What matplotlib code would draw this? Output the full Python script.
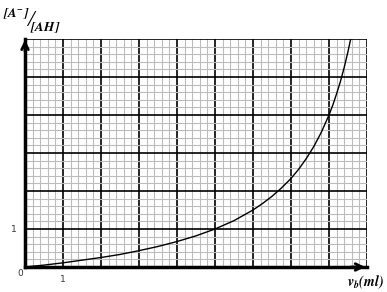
import numpy as np
import matplotlib.pyplot as plt

plt.rcParams['mathtext.fontset'] = 'stix'

# ___________________ DATA ___________________
vb = [0, 0.5, 1, 1.5, 2, 2.5, 3, 3.5, 4, 4.5, 5, 5.5, 6, 6.25, 6.5, 6.75,
      7, 7.2, 7.4, 7.6, 7.8, 8, 8.1, 8.2, 8.3, 8.4, 8.5, 8.6]
ratio = [0, 0.05, 0.11, 0.18, 0.25, 0.33, 0.43, 0.54, 0.67, 0.82, 1.0,
         1.22, 1.5, 1.67, 1.86, 2.08, 2.33, 2.57, 2.85, 3.17, 3.55, 4.0,
         4.26, 4.56, 4.88, 5.25, 5.67, 6.14]

x_max, y_max = 9, 6
x_labels = ['', '1', '', '', '', '', '', '', '', '']
y_labels = ['', '1', '', '', '', '', '']

# ___________________ PLOT ___________________
fig = plt.figure(figsize=(3.87, 2.92), dpi=100)
ax = fig.add_axes([25 / 387, 25 / 292, 342 / 387, 228 / 292])

ax.set_xlim(0, x_max)
ax.set_ylim(0, y_max)

ax.set_xticks(range(x_max + 1))
ax.set_xticklabels(x_labels)
ax.set_yticks(range(y_max + 1))
ax.set_yticklabels(y_labels)
ax.set_xticks(np.arange(0, x_max + 0.01, 0.2), minor=True)
ax.set_yticks(np.arange(0, y_max + 0.01, 0.2), minor=True)
ax.tick_params(which='both', length=0, labelsize=6.5, colors='#333333')
ax.tick_params(axis='x', pad=6)
ax.tick_params(axis='y', pad=6)

ax.grid(which='minor', color='#bcbcbc', linewidth=0.8)
ax.grid(which='major', color='black', linewidth=1.2)
ax.set_axisbelow(True)

for s in ['top', 'right']:
    ax.spines[s].set_visible(False)
for s in ['left', 'bottom']:
    ax.spines[s].set_linewidth(2.5)

ax.plot(vb, ratio, color='black', linewidth=1.0)

# axis arrows
ax.annotate('', xy=(0, y_max + 0.05), xytext=(0, y_max - 0.4),
            arrowprops=dict(arrowstyle='->', lw=2, color='black',
                            mutation_scale=12), annotation_clip=False)
ax.annotate('', xy=(x_max + 0.02, 0), xytext=(x_max - 0.5, 0),
            arrowprops=dict(arrowstyle='->', lw=2, color='black',
                            mutation_scale=12), annotation_clip=False)

# labels
fig.text(20 / 387, 1 - 274 / 292, '0', fontsize=6.5, color='#333333',
         ha='center', va='center')
fig.text(16 / 387, 1 - 14 / 292, r'$\mathbfit{[A^{-}]}$', fontsize=9.5,
         ha='center', va='center')
fig.text(30 / 387, 1 - 21 / 292, '/', fontsize=17, ha='center',
         va='center', family='Liberation Serif', style='italic')
fig.text(45 / 387, 1 - 28 / 292, r'$\mathbfit{[AH]}$', fontsize=9.5,
         ha='center', va='center')
fig.text(365 / 387, 1 - 282 / 292, r'$\mathbfit{v_b(ml)}$', fontsize=10,
         ha='center', va='center')

plt.savefig('out.png', dpi=100)
